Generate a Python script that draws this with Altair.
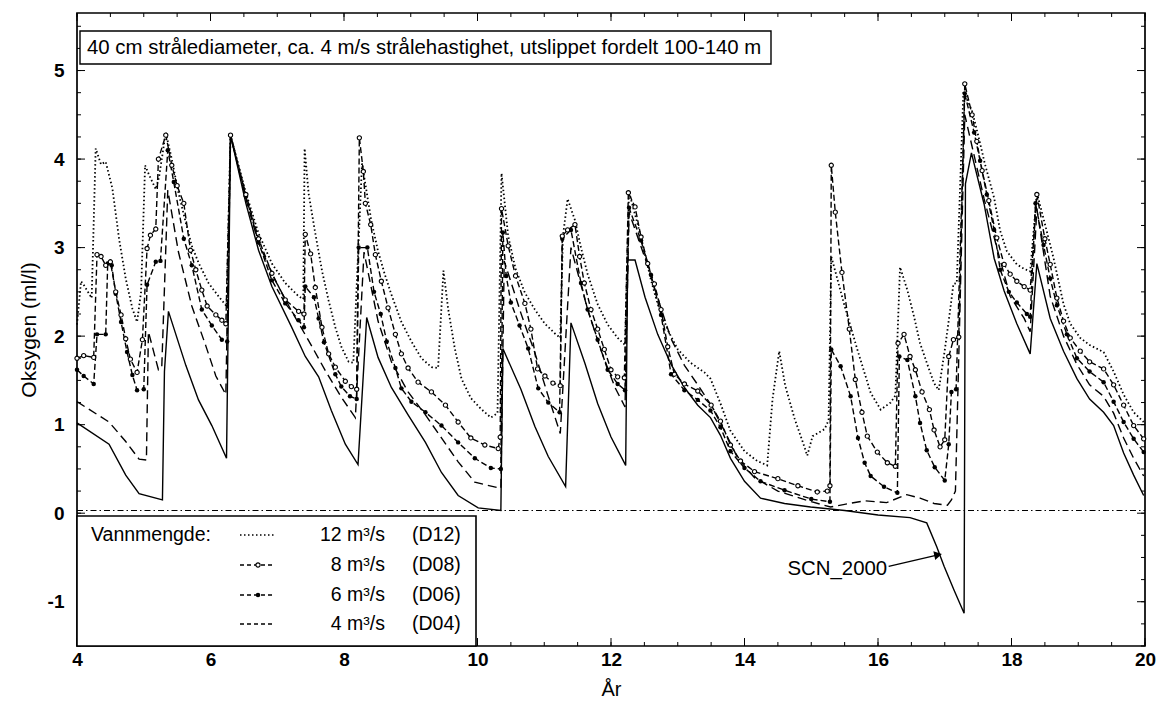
import altair as alt
import pandas as pd
import numpy as np

# ---------------- data ----------------
scn_x = [4.00, 4.48, 4.73, 4.93, 5.28, 5.31, 5.37, 5.63, 5.82, 6.02, 6.24, 6.30, 6.53, 6.72, 6.92, 7.21,
         7.42, 7.62, 7.81, 8.02, 8.21, 8.34, 8.51, 8.71, 8.96, 9.22, 9.46, 9.71, 10.01, 10.35, 10.38,
         10.65, 10.86, 11.06, 11.32, 11.40, 11.61, 11.80, 12.00, 12.22, 12.25, 12.36, 12.51, 12.70,
         12.90, 13.10, 13.30, 13.49, 13.64, 13.79, 14.00, 14.24, 14.60, 14.99, 15.50, 16.00, 16.48,
         16.73, 16.88, 16.99, 17.14, 17.29, 17.31, 17.40, 17.59, 17.74, 17.89, 18.08, 18.28, 18.38,
         18.58, 18.78, 18.98, 19.17, 19.38, 19.53, 19.68, 19.83, 19.98]
scn_y = [1.02, 0.78, 0.43, 0.22, 0.15, 1.60, 2.28, 1.67, 1.28, 0.99, 0.62, 4.27, 3.50, 2.97, 2.56, 2.11,
         1.77, 1.54, 1.16, 0.78, 0.55, 2.21, 1.76, 1.42, 1.11, 0.80, 0.46, 0.20, 0.06, 0.03, 1.86,
         1.40, 0.98, 0.64, 0.30, 2.15, 1.69, 1.24, 0.86, 0.54, 2.86, 2.86, 2.44, 2.02,
         1.68, 1.42, 1.22, 1.08, 0.88, 0.62, 0.36, 0.17, 0.11, 0.07, 0.03, -0.02, -0.05,
         -0.11, -0.38, -0.60, -0.87, -1.13, 3.72, 4.07, 3.49, 2.88, 2.51, 2.14, 1.80, 2.82,
         2.20, 1.83, 1.52, 1.29, 1.14, 0.99, 0.68, 0.43, 0.20]

d04_x = [4.00, 4.48, 4.73, 4.93, 5.04, 5.07, 5.22, 5.27, 5.36, 5.52, 5.72, 5.93, 6.08, 6.23, 6.30, 6.53,
         6.72, 6.97, 7.21, 7.47, 7.72, 7.96, 8.17, 8.30, 8.51, 8.71, 8.96, 9.22, 9.46, 9.71, 9.96, 10.35,
         10.40, 10.65, 10.86, 11.06, 11.24, 11.40, 11.65, 11.85, 12.06, 12.21, 12.27, 12.51, 12.70, 12.90,
         13.10, 13.30, 13.50, 13.70, 13.90, 14.15, 14.50, 15.00, 15.29, 15.50, 15.80, 16.13, 16.43,
         16.63, 16.84, 17.04, 17.10, 17.16, 17.30, 17.59, 17.78, 17.98, 18.19, 18.28, 18.38, 18.58,
         18.78, 18.98, 19.17, 19.38, 19.53, 19.68, 19.83, 19.98]
d04_y = [1.26, 1.03, 0.81, 0.61, 0.60, 2.05, 1.62, 1.65, 3.65, 2.95, 2.34, 1.89, 1.55, 1.34, 4.27, 3.55,
         3.05, 2.63, 2.29, 1.95, 1.61, 1.31, 1.08, 2.95, 2.17, 1.71, 1.37, 1.11, 0.85, 0.58, 0.35, 0.28,
         2.85, 2.26, 1.81, 1.32, 0.90, 3.00, 2.30, 1.84, 1.42, 1.20, 3.40, 2.88, 2.43, 1.97,
         1.67, 1.45, 1.22, 0.93, 0.62, 0.40, 0.25, 0.13, 0.07, 0.10, 0.14, 0.12, 0.21,
         0.17, 0.11, 0.09, 0.15, 0.25, 4.50, 3.55, 3.00, 2.45, 2.20, 2.05, 3.44, 2.45,
         2.00, 1.68, 1.45, 1.32, 1.13, 0.85, 0.62, 0.42]

d06_x = [4.00, 4.10, 4.25, 4.30, 4.43, 4.46, 4.52, 4.58, 4.66, 4.75, 4.83, 4.90, 5.00, 5.05, 5.18, 5.25,
         5.36, 5.45, 5.60, 5.72, 5.87, 6.02, 6.17, 6.25, 6.30, 6.53, 6.72, 6.92, 7.12, 7.32, 7.40, 7.42,
         7.55, 7.62, 7.70, 7.87, 7.96, 8.09, 8.19, 8.22, 8.35, 8.45, 8.55, 8.64, 8.77, 8.86, 9.01, 9.22,
         9.46, 9.71, 9.96, 10.20, 10.35, 10.38, 10.43, 10.50, 10.63, 10.76, 10.91, 11.06, 11.23, 11.27,
         11.40, 11.55, 11.65, 11.80, 11.95, 12.10, 12.21, 12.27, 12.45, 12.60, 12.75, 12.90, 13.10,
         13.30, 13.49, 13.64, 13.79, 14.00, 14.24, 14.60, 15.00, 15.28, 15.30, 15.44, 15.59, 15.70,
         15.80, 15.89, 16.09, 16.29, 16.32, 16.44, 16.56, 16.63, 16.73, 16.85, 17.00, 17.06, 17.10,
         17.17, 17.30, 17.44, 17.53, 17.63, 17.74, 17.83, 17.96, 18.08, 18.23, 18.28, 18.36, 18.48,
         18.58, 18.68, 18.83, 18.98, 19.17, 19.38, 19.53, 19.68, 19.83, 19.98]
d06_y = [1.62, 1.55, 1.46, 2.02, 2.02, 2.82, 2.80, 2.48, 2.16, 1.82, 1.56, 1.39, 1.40, 2.58, 2.84, 2.85,
         4.10, 3.74, 3.10, 2.80, 2.30, 2.12, 1.96, 1.94, 4.27, 3.58, 3.06, 2.63, 2.37, 2.18, 2.10, 2.56,
         2.44, 2.20, 1.93, 1.57, 1.43, 1.32, 1.29, 3.00, 3.00, 2.50, 2.25, 1.94, 1.64, 1.41, 1.26, 1.14,
         0.99, 0.80, 0.62, 0.51, 0.50, 3.17, 2.68, 2.38, 2.12, 1.86, 1.41, 1.25, 1.14, 3.10,
         3.20, 2.60, 2.30, 1.96, 1.62, 1.46, 1.39, 3.45, 3.08, 2.69, 2.24, 1.57, 1.39,
         1.28, 1.16, 0.97, 0.70, 0.51, 0.36, 0.26, 0.16, 0.13, 1.85, 1.66, 1.32, 0.85,
         0.57, 0.42, 0.30, 0.23, 1.77, 1.73, 1.32, 1.02, 0.71, 0.52, 0.37, 0.78, 1.37,
         1.40, 4.74, 4.30, 3.98, 3.60, 3.20, 2.75, 2.50, 2.38, 2.25, 2.22, 3.50, 3.03,
         2.65, 2.35, 2.02, 1.75, 1.60, 1.48, 1.26, 1.03, 0.84, 0.69]

d08_x = [4.00, 4.10, 4.25, 4.30, 4.36, 4.43, 4.50, 4.58, 4.66, 4.73, 4.80, 4.90, 4.98, 5.05, 5.10, 5.18,
         5.22, 5.33, 5.42, 5.50, 5.60, 5.70, 5.78, 5.87, 5.95, 6.08, 6.17, 6.23, 6.30, 6.53, 6.72, 6.92,
         7.12, 7.32, 7.40, 7.42, 7.50, 7.57, 7.67, 7.77, 7.87, 8.02, 8.11, 8.19, 8.23, 8.29, 8.32, 8.40,
         8.47, 8.56, 8.66, 8.77, 8.86, 8.96, 9.11, 9.31, 9.52, 9.71, 9.90, 10.11, 10.31, 10.34, 10.36,
         10.46, 10.57, 10.71, 10.80, 10.90, 11.01, 11.13, 11.24, 11.27, 11.35, 11.46, 11.53, 11.60,
         11.70, 11.80, 11.90, 12.00, 12.10, 12.20, 12.26, 12.36, 12.45, 12.55, 12.65, 12.75, 12.85,
         12.95, 13.10, 13.30, 13.50, 13.64, 13.79, 13.94, 14.15, 14.50, 14.80, 15.09, 15.24, 15.28,
         15.30, 15.36, 15.46, 15.57, 15.66, 15.76, 15.84, 15.99, 16.14, 16.26, 16.30, 16.39, 16.48,
         16.56, 16.66, 16.77, 16.84, 16.93, 17.00, 17.06, 17.13, 17.21, 17.30, 17.41, 17.48, 17.56,
         17.66, 17.78, 17.89, 17.98, 18.08, 18.19, 18.28, 18.38, 18.50, 18.58, 18.68, 18.78, 18.88,
         19.03, 19.17, 19.38, 19.53, 19.68, 19.83, 19.98]
d08_y = [1.75, 1.78, 1.76, 2.92, 2.90, 2.80, 2.84, 2.50, 2.24, 1.97, 1.74, 1.59, 1.96, 2.99, 3.14, 3.21,
         4.00, 4.27, 3.93, 3.70, 3.50, 2.97, 2.75, 2.52, 2.34, 2.24, 2.18, 2.14, 4.27, 3.60, 3.10, 2.71,
         2.41, 2.28, 2.25, 3.15, 2.93, 2.55, 2.10, 1.80, 1.65, 1.49, 1.43, 1.40, 4.24, 3.86, 3.50, 3.26,
         2.92, 2.62, 2.32, 2.02, 1.80, 1.64, 1.48, 1.37, 1.22, 1.03, 0.85, 0.77, 0.73, 0.86, 3.44,
         3.02, 2.68, 2.37, 2.08, 1.63, 1.55, 1.47, 1.44, 3.13, 3.20, 3.26, 2.90, 2.60,
         2.30, 2.08, 1.85, 1.62, 1.54, 1.53, 3.62, 3.46, 3.12, 2.82, 2.59, 2.30, 1.88,
         1.57, 1.46, 1.38, 1.22, 1.04, 0.77, 0.59, 0.47, 0.39, 0.31, 0.24, 0.25, 0.31,
         3.93, 3.40, 2.72, 2.08, 1.51, 1.14, 0.87, 0.69, 0.57, 0.53, 1.92, 2.02, 1.77,
         1.62, 1.37, 1.17, 0.94, 0.75, 0.83, 1.77, 1.96, 1.99, 4.85, 4.50, 4.20, 3.87,
         3.53, 3.11, 2.81, 2.70, 2.62, 2.56, 2.52, 3.60, 3.10, 2.81, 2.43, 2.17, 1.98,
         1.83, 1.71, 1.63, 1.45, 1.22, 0.99, 0.84]

d12_x = [4.00, 4.06, 4.10, 4.22, 4.28, 4.36, 4.43, 4.53, 4.63, 4.73, 4.83, 4.90, 4.96, 5.02, 5.08, 5.18,
         5.23, 5.33, 5.42, 5.52, 5.63, 5.72, 5.82, 5.97, 6.12, 6.24, 6.30, 6.53, 6.72, 6.92, 7.12, 7.32,
         7.39, 7.41, 7.47, 7.57, 7.67, 7.77, 7.87, 7.96, 8.07, 8.14, 8.27, 8.41, 8.51, 8.61, 8.71, 8.86,
         9.01, 9.16, 9.31, 9.41, 9.49, 9.56, 9.66, 9.76, 9.90, 10.05, 10.20, 10.30, 10.36, 10.46, 10.57,
         10.71, 10.86, 11.01, 11.16, 11.24, 11.28, 11.35, 11.46, 11.55, 11.65, 11.80, 11.95, 12.10,
         12.21, 12.27, 12.40, 12.51, 12.60, 12.70, 12.85, 13.00, 13.19, 13.40, 13.49, 13.64, 13.79,
         14.00, 14.19, 14.34, 14.42, 14.52, 14.61, 14.75, 14.87, 14.94, 15.02, 15.20, 15.26, 15.30,
         15.50, 15.69, 15.89, 16.04, 16.19, 16.26, 16.33, 16.44, 16.54, 16.63, 16.73, 16.84, 16.91,
         17.00, 17.08, 17.13, 17.18, 17.28, 17.41, 17.51, 17.60, 17.74, 17.83, 17.93, 18.08, 18.19,
         18.28, 18.38, 18.53, 18.63, 18.78, 18.88, 19.03, 19.17, 19.38, 19.53, 19.68, 19.83, 19.98]
d12_y = [2.13, 2.62, 2.58, 2.43, 4.12, 3.94, 3.97, 3.67, 3.10, 2.65, 2.31, 2.16, 2.50, 3.93, 3.82, 3.66,
         3.80, 4.30, 4.00, 3.62, 3.28, 3.02, 2.83, 2.60, 2.45, 2.34, 4.27, 3.62, 3.16, 2.82, 2.60, 2.45,
         2.42, 4.12, 3.61, 3.16, 2.74, 2.40, 2.10, 1.88, 1.71, 1.70, 3.95, 3.30, 2.96, 2.70, 2.47, 2.16,
         1.94, 1.75, 1.65, 1.64, 2.74, 2.31, 1.86, 1.52, 1.30, 1.18, 1.08, 1.13, 3.84, 3.13, 2.76,
         2.49, 2.30, 2.14, 2.03, 1.98, 3.13, 3.55, 3.31, 3.00, 2.70, 2.36, 2.13, 1.98,
         1.90, 3.63, 3.26, 2.92, 2.63, 2.36, 2.07, 1.85, 1.70, 1.59, 1.52, 1.24, 0.93,
         0.70, 0.59, 0.54, 1.29, 1.83, 1.44, 1.07, 0.81, 0.65, 0.87, 0.95, 1.05, 2.90,
         2.34, 1.85, 1.36, 1.17, 1.25, 1.33, 2.78, 2.52, 2.22, 1.92, 1.70, 1.47, 1.39,
         1.84, 2.29, 2.59, 2.60, 4.77, 4.54, 4.24, 3.95, 3.56, 3.19, 2.96, 2.81, 2.76,
         2.73, 3.62, 3.18, 2.88, 2.36, 2.14, 1.98, 1.90, 1.82, 1.60, 1.34, 1.14, 1.03]

ref_level = [0.03]
x_ticks = [4, 6, 8, 10, 12, 14, 16, 18, 20]
y_ticks = [-1, 0, 1, 2, 3, 4, 5]
x_minor = [v / 2 for v in range(8, 41)]
y_minor = [v / 4 for v in range(-6, 23)]

title_text = "40 cm strålediameter, ca. 4 m/s strålehastighet, utslippet fordelt 100-140 m"
legend_title = "Vannmengde:"
legend_flows = ["12 m³/s", "8 m³/s", "6 m³/s", "4 m³/s"]
legend_codes = ["(D12)", "(D08)", "(D06)", "(D04)"]
annot_label = "SCN_2000"
annot_pos = {"x": 15.39, "y": -0.63}
arrow_x = [16.16, 16.90]
arrow_y = [-0.60, -0.47]

# ---------------- layout / style ----------------
W, H = 1068, 633
FONT = "Liberation Sans"
FS = 20.4
FS_LEG = 19.5

xs = alt.Scale(domain=[4, 20], nice=False, zero=False)
ys = alt.Scale(domain=[-1.5, 5.65], nice=False, zero=False)
x_axis = alt.Axis(values=x_ticks, title="År", ticks=False, domain=False, grid=False,
                  labelFont=FONT, labelFontSize=19, labelFontWeight="bold", labelColor="black",
                  labelPadding=4, labelFlush=False, titleFont=FONT, titleFontSize=20,
                  titleFontWeight="normal", titleColor="black", titlePadding=10,
                  labelExpr="toString(datum.value)")
y_axis = alt.Axis(values=y_ticks, title="Oksygen (ml/l)", ticks=False, domain=False, grid=False,
                  labelFont=FONT, labelFontSize=19, labelFontWeight="bold", labelColor="black",
                  labelPadding=13, titleFont=FONT, titleFontSize=21, titleFontWeight="normal",
                  titleColor="black", titlePadding=8, labelExpr="toString(datum.value)")
X = alt.X("x:Q", scale=xs, axis=x_axis)
Y = alt.Y("y:Q", scale=ys, axis=y_axis)


def df(xv, yv):
    return pd.DataFrame({"x": xv, "y": yv})


one = pd.DataFrame({"a": [0]})
layers = []

# reference dash-dot line
layers.append(alt.Chart(pd.DataFrame({"y": ref_level})).mark_rule(
    color="black", strokeWidth=1.1, strokeDash=[6, 3, 1.5, 3]).encode(
    y=Y, x=alt.value(0), x2=alt.value(W)))

# inward ticks
tick_specs = [
    (y_ticks, "y", 8), (y_minor, "y", 4), (x_ticks, "x", 8), (x_minor, "x", 4)]
for vals, ax, ln in tick_specs:
    d = pd.DataFrame({ax: vals})
    if ax == "y":
        layers.append(alt.Chart(d).mark_rule(color="black", strokeWidth=1).encode(
            y=Y, x=alt.value(0), x2=alt.value(ln)))
        layers.append(alt.Chart(d).mark_rule(color="black", strokeWidth=1).encode(
            y=Y, x=alt.value(W - ln), x2=alt.value(W)))
    else:
        layers.append(alt.Chart(d).mark_rule(color="black", strokeWidth=1).encode(
            x=X, y=alt.value(H - ln), y2=alt.value(H)))
        layers.append(alt.Chart(d).mark_rule(color="black", strokeWidth=1).encode(
            x=X, y=alt.value(0), y2=alt.value(ln)))

# series lines
layers.append(alt.Chart(df(scn_x, scn_y)).mark_line(color="black", strokeWidth=1.4).encode(x=X, y=Y))
layers.append(alt.Chart(df(d04_x, d04_y)).mark_line(color="black", strokeWidth=1.4,
                                                    strokeDash=[9, 5]).encode(x=X, y=Y))
layers.append(alt.Chart(df(d06_x, d06_y)).mark_line(color="black", strokeWidth=1.4,
                                                    strokeDash=[6, 3]).encode(x=X, y=Y))
layers.append(alt.Chart(df(d08_x, d08_y)).mark_line(color="black", strokeWidth=1.4,
                                                    strokeDash=[6, 3]).encode(x=X, y=Y))
layers.append(alt.Chart(df(d12_x, d12_y)).mark_line(color="black", strokeWidth=1.8,
                                                    strokeDash=[1.5, 2.5]).encode(x=X, y=Y))
layers.append(alt.Chart(df(d06_x, d06_y)).mark_point(shape="circle", filled=True, color="black",
                                                     size=20, opacity=1).encode(x=X, y=Y))
layers.append(alt.Chart(df(d08_x, d08_y)).mark_point(shape="circle", filled=True, fill="white",
                                                     stroke="black", strokeWidth=1.1, size=18,
                                                     opacity=1).encode(x=X, y=Y))

# title box
layers.append(alt.Chart(one).mark_rect(fill="white", stroke="black", strokeWidth=1.4).encode(
    x=alt.value(3), x2=alt.value(694), y=alt.value(18), y2=alt.value(51)))
layers.append(alt.Chart(one).mark_text(align="left", baseline="middle", font=FONT, fontSize=FS,
                                       color="black").encode(
    x=alt.value(10), y=alt.value(35), text=alt.value(title_text)))

# SCN_2000 annotation
layers.append(alt.Chart(pd.DataFrame(annot_pos, index=[0])).mark_text(
    align="center", baseline="middle", font=FONT, fontSize=FS, color="black").encode(
    x=X, y=Y, text=alt.value(annot_label)))
layers.append(alt.Chart(df(arrow_x, arrow_y)).mark_line(color="black", strokeWidth=1.4).encode(x=X, y=Y))
layers.append(alt.Chart(df(arrow_x[1:], arrow_y[1:])).mark_point(
    shape="triangle-right", filled=True, color="black", size=80, angle=348, opacity=1).encode(x=X, y=Y))

# legend box
LX0, LX1, LY0 = 0, 399, 503
rows = [522, 552, 582, 611]
layers.append(alt.Chart(one).mark_rect(fill="white", stroke="black", strokeWidth=1.6).encode(
    x=alt.value(LX0), x2=alt.value(LX1), y=alt.value(LY0), y2=alt.value(H)))
layers.append(alt.Chart(one).mark_text(align="left", baseline="middle", font=FONT, fontSize=FS_LEG,
                                       color="black").encode(
    x=alt.value(14), y=alt.value(rows[0]), text=alt.value(legend_title)))
dashes = [[1.5, 2.5], [4, 3], [4, 3], [4, 3]]
for i in range(4):
    layers.append(alt.Chart(one).mark_rule(color="black", strokeWidth=1.4,
                                           strokeDash=dashes[i]).encode(
        x=alt.value(163), x2=alt.value(198), y=alt.value(rows[i])))
    layers.append(alt.Chart(one).mark_text(align="right", baseline="middle", font=FONT,
                                           fontSize=FS_LEG, color="black").encode(
        x=alt.value(308), y=alt.value(rows[i]), text=alt.value(legend_flows[i])))
    layers.append(alt.Chart(one).mark_text(align="left", baseline="middle", font=FONT,
                                           fontSize=FS_LEG, color="black").encode(
        x=alt.value(335), y=alt.value(rows[i]), text=alt.value(legend_codes[i])))
layers.append(alt.Chart(one).mark_point(shape="circle", filled=True, fill="white", stroke="black",
                                        strokeWidth=1.1, size=18, opacity=1).encode(
    x=alt.value(181), y=alt.value(rows[1])))
layers.append(alt.Chart(one).mark_point(shape="circle", filled=True, color="black", size=20,
                                        opacity=1).encode(
    x=alt.value(181), y=alt.value(rows[2])))

chart = alt.layer(*layers).properties(
    width=W, height=H, background="white",
    padding={"left": 10, "top": 4, "right": 5, "bottom": 5}
).configure_view(stroke="black", strokeWidth=1.7)

chart.save("out.html", embed_options={"renderer": "svg", "actions": False})
